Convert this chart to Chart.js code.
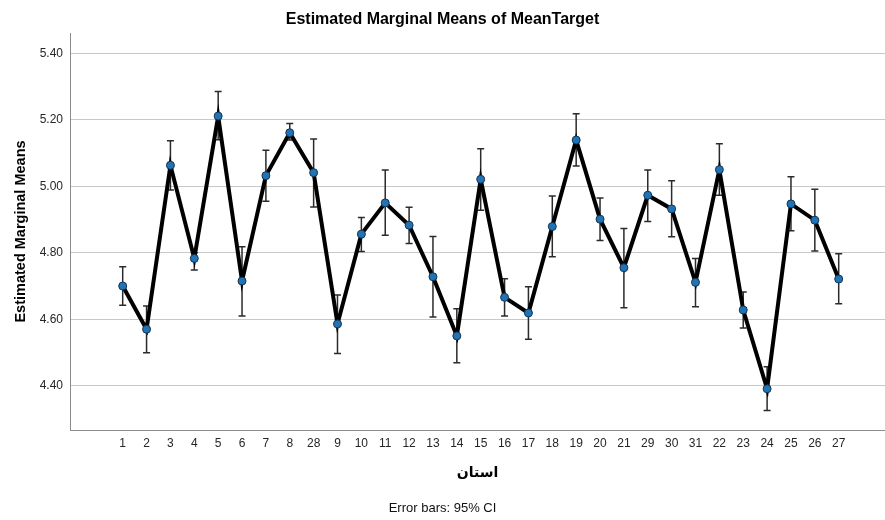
<!DOCTYPE html>
<html>
<head>
<meta charset="utf-8">
<script src="https://cdn.jsdelivr.net/npm/chart.js@4/dist/chart.umd.min.js"></script>
<style>
  html, body { margin: 0; padding: 0; background: #fff; }
  #wrap { width: 885px; height: 520px; position: relative; }
</style>
</head>
<body>
<div id="wrap"><canvas id="c" width="885" height="520"></canvas></div>
<script>
const categories = ['1','2','3','4','5','6','7','8','28','9','10','11','12','13','14','15','16','17','18','19','20','21','29','30','31','22','23','24','25','26','27'];
const means  = [4.700,4.570,5.063,4.783,5.211,4.715,5.032,5.161,5.041,4.586,4.856,4.950,4.883,4.728,4.550,5.021,4.666,4.619,4.879,5.139,4.901,4.755,4.973,4.932,4.711,5.050,4.628,4.391,4.947,4.898,4.721];
const ciLow  = [4.642,4.499,4.989,4.748,5.140,4.610,4.955,5.139,4.938,4.497,4.804,4.853,4.828,4.607,4.469,4.928,4.610,4.540,4.788,5.061,4.837,4.635,4.894,4.848,4.638,4.973,4.574,4.326,4.866,4.805,4.647];
const ciHigh = [4.758,4.640,5.137,4.800,5.285,4.818,5.108,5.189,5.142,4.673,4.906,5.049,4.937,4.849,4.632,5.113,4.722,4.698,4.971,5.218,4.965,4.873,5.049,5.017,4.783,5.128,4.682,4.457,5.029,4.991,4.797];
const yTicks = [4.40,4.60,4.80,5.00,5.20,5.40];

const FONT = "'Liberation Sans', Arial, 'DejaVu Sans', sans-serif";

const errorBars = {
  id: 'errorBars',
  beforeDatasetsDraw(chart) {
    const {ctx, scales: {x, y}} = chart;
    ctx.save();
    ctx.strokeStyle = '#2b2b2b';
    ctx.lineWidth = 1.5;
    const cap = 3.5;
    categories.forEach((c, i) => {
      const px = x.getPixelForValue(i);
      const yl = y.getPixelForValue(ciLow[i]);
      const yh = y.getPixelForValue(ciHigh[i]);
      ctx.beginPath();
      ctx.moveTo(px, yl); ctx.lineTo(px, yh);
      ctx.moveTo(px - cap, yl); ctx.lineTo(px + cap, yl);
      ctx.moveTo(px - cap, yh); ctx.lineTo(px + cap, yh);
      ctx.stroke();
    });
    ctx.restore();
  }
};

new Chart(document.getElementById('c'), {
  type: 'line',
  data: {
    datasets: [{
      data: means.map((v, i) => ({x: i, y: v})),
      borderColor: '#000000',
      borderWidth: 4,
      pointRadius: 4,
      pointBorderWidth: 1,
      pointBackgroundColor: '#1f74b8',
      pointBorderColor: '#17324d',
      tension: 0,
      fill: false,
      clip: false
    }]
  },
  options: {
    responsive: false,
    animation: false,
    events: [],
    layout: { autoPadding: false, padding: { left: 0, right: 0, top: 0, bottom: 0 } },
    plugins: {
      legend: { display: false },
      tooltip: { enabled: false },
      title: {
        display: true,
        text: 'Estimated Marginal Means of MeanTarget',
        color: '#000',
        font: { family: FONT, size: 16, weight: 'bold' },
        padding: { top: 10.4, bottom: 3.4 }
      },
      subtitle: {
        display: true,
        position: 'bottom',
        text: 'Error bars: 95% CI',
        color: '#111',
        font: { family: FONT, size: 13, weight: 'normal' },
        padding: { top: 0, bottom: 4 }
      }
    },
    scales: {
      x: {
        type: 'linear',
        min: -2.208,
        max: 31.94,
        afterBuildTicks(scale) { scale.ticks = categories.map((c, i) => ({ value: i })); },
        afterFit(scale) { scale.height = 70.4; scale.paddingLeft = 0; scale.paddingRight = 0; },
        ticks: {
          autoSkip: false,
          maxRotation: 0,
          color: '#262626',
          padding: 6,
          font: { family: FONT, size: 12 },
          callback: (v) => categories[v]
        },
        grid: { display: false, drawTicks: false },
        border: { display: true, color: '#8c8c8c', width: 1 },
        title: {
          display: true,
          text: 'استان',
          color: '#000',
          font: { family: "'DejaVu Sans', sans-serif", size: 14, weight: 'bold' },
          padding: { top: 0, bottom: 19 }
        }
      },
      y: {
        min: 4.267,
        max: 5.461,
        afterBuildTicks(scale) { scale.ticks = yTicks.map(v => ({ value: v })); },
        afterFit(scale) { scale.width = 70; },
        ticks: {
          color: '#262626',
          padding: 7,
          font: { family: FONT, size: 12 },
          callback: (v) => Number(v).toFixed(2)
        },
        grid: { color: '#c8c8c8', lineWidth: 1, drawTicks: false },
        border: { display: true, color: '#8c8c8c', width: 1 },
        title: {
          display: true,
          text: 'Estimated Marginal Means',
          color: '#000',
          font: { family: FONT, size: 14.5, weight: 'bold' },
          padding: { top: 12, bottom: 0 }
        }
      }
    }
  },
  plugins: [errorBars]
});
</script>
</body>
</html>
